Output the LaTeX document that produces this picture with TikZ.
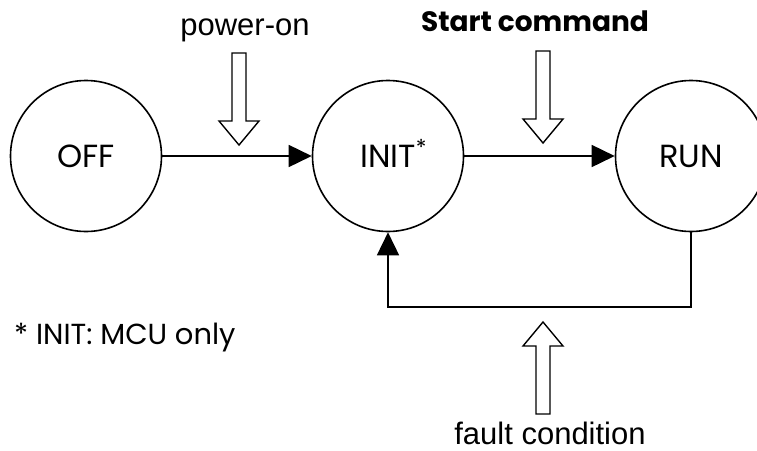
\documentclass[tikz,border=0pt]{standalone}
\usepackage{fontspec}
\setmainfont{Poppins}
\newfontfamily\cuefont{Liberation Sans}
\usetikzlibrary{arrows.meta}
\definecolor{inkblack}{RGB}{0,0,0}

\tikzset{
  state/.style={circle, draw=inkblack, line width=1.6pt, minimum size=151pt, inner sep=0pt, font=\fontsize{32}{36}\selectfont},
  flow/.style={line width=1.6pt, color=inkblack, -{Triangle[length=23pt,width=22pt]}},
  cue/.style={anchor=base, inner sep=0pt, font=\cuefont\fontsize{31}{36}\selectfont},
  hollow/.pic={
    \draw[line width=1.4pt, fill=white] (0,0) -- (-20,-24) -- (-7,-24) -- (-7,-92)
      -- (7,-92) -- (7,-24) -- (20,-24) -- cycle;
  },
}

\begin{document}
\begin{tikzpicture}[x=1pt, y=-1pt]
\clip (0,0) rectangle (757,450);
% states
\node[state] (off) at (86,156) {OFF};
\node[state] (init) at (388,156) {INIT\rlap{\smash{\raisebox{12pt}{\fontsize{22}{24}\selectfont*}}}};
\node[state] (run) at (691,156) {RUN};
\coordinate (loopbase) at (540,307);
% transitions
\draw[flow] (off) -- (init);
\draw[flow] (init) -- (run);
\draw[flow] (run.south) |- (loopbase) -| (init.south);
% events
\pic (pwr) at (239,145) {hollow};
\pic (start) at (543,143) {hollow};
\pic[rotate=180] (fault) at (543,322) {hollow};
\node[cue] (pwrtext) at (245,35) {power-on};
\node[cue, font=\fontsize{28}{32}\selectfont\bfseries] (starttext) at (535,31) {Start command};
\node[cue] (faulttext) at (550,444) {fault condition};
\node[anchor=base west, inner sep=0pt, font=\fontsize{29}{34}\selectfont] (note) at (14,344) {* INIT: MCU only};
\end{tikzpicture}
\end{document}
